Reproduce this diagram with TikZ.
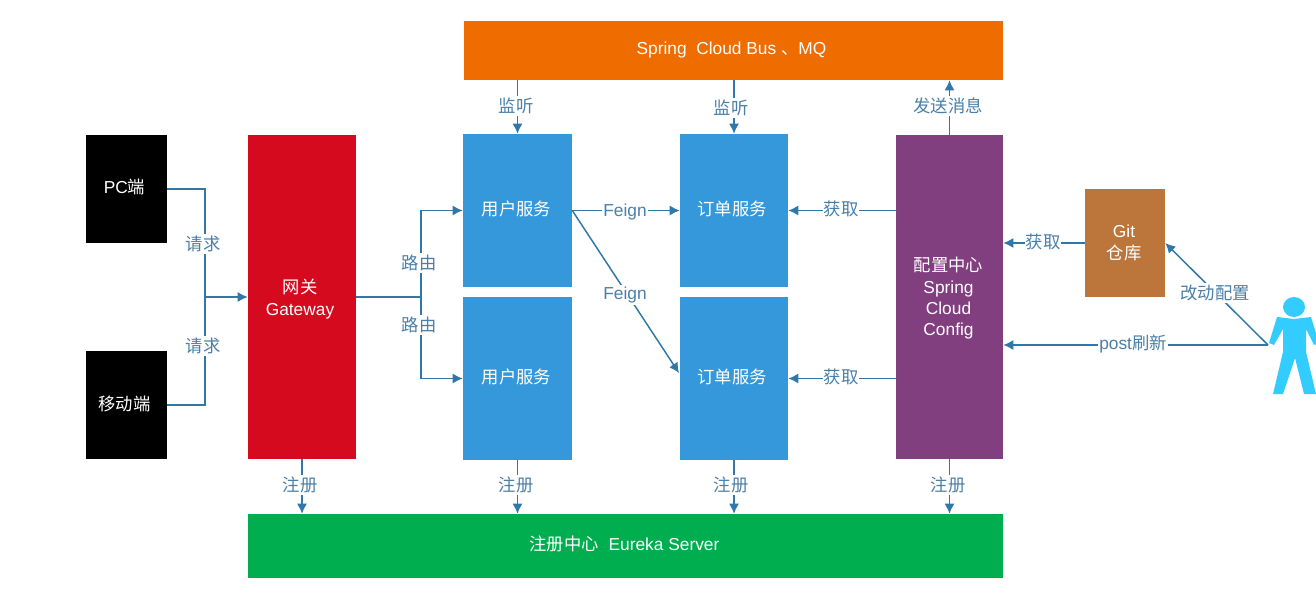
\documentclass[tikz,border=0pt]{standalone}
\usepackage{fontspec}
\setmainfont{Liberation Sans}
\newfontfamily\cjk{Noto Sans CJK SC}
\usetikzlibrary{arrows.meta}
\definecolor{linec}{HTML}{2F78A8}
\definecolor{labc}{HTML}{4A7FA8}
\definecolor{bluebox}{HTML}{3498DB}
\definecolor{redbox}{HTML}{D50A1E}
\definecolor{purplebox}{HTML}{823F80}
\definecolor{orangebox}{HTML}{EE6C00}
\definecolor{greenbox}{HTML}{00AE50}
\definecolor{brownbox}{HTML}{BC763C}
\definecolor{personc}{HTML}{33CCFF}
\tikzset{
  box/.style={rectangle,inner sep=0pt},
  boxtext/.style={text=white,align=center,inner sep=0pt,font=\fontsize{13}{16}\selectfont},
  conn/.style={draw=linec,line width=1.1pt},
  arr/.style={conn,-{Latex[length=7.5pt,width=7.5pt]}},
  lab/.style={fill=white,inner xsep=0.8pt,inner ysep=1.5pt,text=labc,font=\fontsize{13}{15}\selectfont},
}
% name, left, top, right, bottom, colour, text, text shift (x), text shift (y)
\newcommand{\bx}[9]{\node[box,fill=#6,minimum width=(#4-#2)*0.75pt,minimum height=(#5-#3)*0.75pt,
  label={[boxtext,xshift=#8*0.75pt,yshift=#9*0.75pt]center:{#7}}] (#1) at ({(#2+#4)/2},{(#3+#5)/2}) {};}
\begin{document}
\begin{tikzpicture}[x=0.75pt,y=-0.75pt]
\useasboundingbox[fill=white] (0,0) rectangle (1316,598);
% person
\fill[personc] (1294,307) ellipse (11 and 10);
\fill[personc] (1277,317) -- (1294,319) -- (1311,317) -- (1319,343) -- (1314,345) -- (1306,329) -- (1306,352) -- (1316,394) -- (1304,394) -- (1295,358) -- (1283,394) -- (1273,394) -- (1283,352) -- (1283,329) -- (1274,345) -- (1269,343) -- cycle;
\coordinate (hand) at (1268,345);
% boxes
\bx{pc}{86}{135}{167}{243}{black}{PC{\cjk 端}}{-2}{2}
\bx{mobile}{86}{351}{167}{459}{black}{\cjk 移动端}{-2}{1}
\bx{gateway}{248}{135}{356}{459}{redbox}{{\cjk 网关}\\Gateway}{-2}{-2}
\bx{userA}{463}{134}{572}{287}{bluebox}{\cjk 用户服务}{-1}{2}
\bx{userB}{463}{297}{572}{460}{bluebox}{\cjk 用户服务}{-1}{2}
\bx{orderA}{680}{134}{788}{287}{bluebox}{\cjk 订单服务}{-2}{2}
\bx{orderB}{680}{297}{788}{460}{bluebox}{\cjk 订单服务}{-2}{2}
\bx{config}{896}{135}{1003}{459}{purplebox}{{\cjk 配置中心}\\Spring\\Cloud\\Config}{-1}{-1.5}
\bx{bus}{464}{21}{1003}{80}{orangebox}{Spring\ \ Cloud Bus {\cjk 、}MQ}{-2}{0}
\bx{eureka}{248}{514}{1003}{578}{greenbox}{{\cjk 注册中心}\ \ Eureka Server}{-1}{2}
\bx{git}{1085}{189}{1165}{297}{brownbox}{Git\\{\cjk 仓库}}{-1}{0}
% junctions
\coordinate (inJ) at (205,297);
\coordinate (outJ) at (421,297);
\coordinate (orderBin) at (679,373);
% connectors
\draw[conn] (pc.east) -| (inJ);
\draw[conn] (mobile.east) -| (inJ);
\draw[arr] (inJ) -- (gateway.west);
\draw[conn] (gateway.east) -- (outJ);
\draw[arr] (outJ) |- (userA.west);
\draw[arr] (outJ) |- (userB.west);
\draw[arr] (userA.east) -- (orderA.west);
\draw[arr] (userA.east) -- (orderBin);
\draw[arr] (config.west |- orderA.east) -- (orderA.east);
\draw[arr] (config.west |- orderB.east) -- (orderB.east);
\draw[arr] (git.west) -- (config.east |- git.west);
\draw[arr] (hand) -- (config.east |- hand);
\draw[arr] (hand) -- (git.east);
\draw[arr] (bus.south -| userA.north) -- (userA.north);
\draw[arr] (bus.south -| orderA.north) -- (orderA.north);
\draw[arr] (config.north) -- (bus.south -| config.north);
\draw[arr] (gateway.south) -- (eureka.north -| gateway.south);
\draw[arr] (userB.south) -- (eureka.north -| userB.south);
\draw[arr] (orderB.south) -- (eureka.north -| orderB.south);
\draw[arr] (config.south) -- (eureka.north -| config.south);
% labels
\node[lab] (l1) at (203,244) {\cjk 请求};
\node[lab] (l2) at (203,346) {\cjk 请求};
\node[lab] (l3) at (419,263) {\cjk 路由};
\node[lab] (l4) at (419,325) {\cjk 路由};
\node[lab] (l5) at (625,212) {Feign};
\node[lab] (l6) at (625,295) {Feign};
\node[lab] (l7) at (841,209) {\cjk 获取};
\node[lab] (l8) at (841,377) {\cjk 获取};
\node[lab] (l9) at (1043,242) {\cjk 获取};
\node[lab] (l10) at (1133,344) {post{\cjk 刷新}};
\node[lab] (l11) at (1215,293) {\cjk 改动配置};
\node[lab] (l12) at (516,106) {\cjk 监听};
\node[lab] (l13) at (731,108) {\cjk 监听};
\node[lab] (l14) at (948,106) {\cjk 发送消息};
\node[lab] (l15) at (300,485) {\cjk 注册};
\node[lab] (l16) at (516,485) {\cjk 注册};
\node[lab] (l17) at (731,485) {\cjk 注册};
\node[lab] (l18) at (948,485) {\cjk 注册};
\end{tikzpicture}
\end{document}
